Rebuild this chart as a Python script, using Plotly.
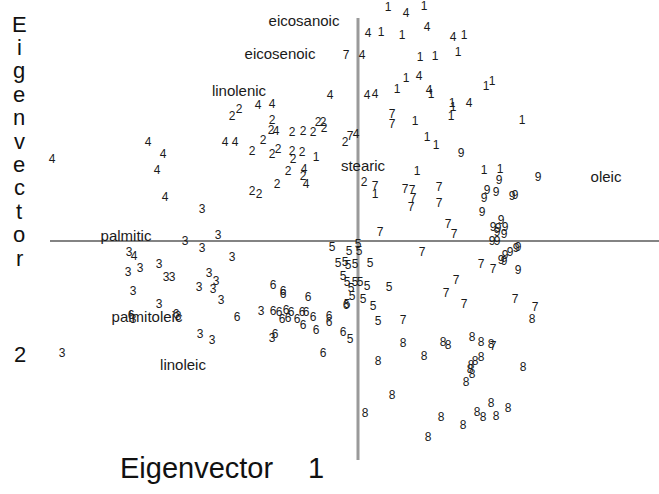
import plotly.graph_objects as go

# ---- data: eigenvector scores (x = Eigenvector 1, y = Eigenvector 2), grouped by region code ----
g1_x = [0.30, 0.66, 0.23, 0.44, 1.06, 0.62, 0.77, 1.00, 0.48, 0.39, 0.73, 1.28, 1.34, 0.94, 0.95, 0.93, 0.57, 1.64, 0.69, 0.78, -0.42, 0.59, 1.26, 1.42, 0.17]
g1_y = [2.33, 2.34, 2.08, 2.05, 2.05, 1.83, 1.84, 1.88, 1.62, 1.51, 1.46, 1.54, 1.59, 1.37, 1.33, 1.24, 1.19, 1.20, 1.03, 0.95, 0.83, 0.69, 0.70, 0.71, 0.46]

g2_x = [-1.26, -1.19, -0.86, -0.87, -0.95, -0.66, -0.55, -0.45, -0.40, -0.35, -0.34, -1.06, -0.86, -0.80, -0.66, -0.56, -0.65, -0.70, -0.55, -0.81, -1.06, -0.99, -0.13, 0.06]
g2_y = [1.24, 1.31, 1.20, 1.10, 1.00, 1.08, 1.09, 1.08, 1.18, 1.18, 1.12, 0.89, 0.86, 0.91, 0.89, 0.88, 0.81, 0.69, 0.64, 0.56, 0.49, 0.46, 0.98, 0.58]

g3_x = [-1.56, -1.73, -1.40, -1.56, -2.29, -1.26, -2.30, -2.18, -1.99, -1.92, -1.86, -1.49, -1.42, -1.59, -1.45, -1.37, -2.25, -1.99, -2.25, -1.80, -0.97, -0.86, -1.58, -1.46, -2.96]
g3_y = [0.31, -0.01, 0.05, -0.08, -0.12, -0.17, -0.32, -0.28, -0.24, -0.37, -0.37, -0.33, -0.41, -0.47, -0.49, -0.60, -0.51, -0.64, -0.79, -0.76, -0.71, -0.98, -0.94, -1.00, -1.13]

g4_x = [0.48, 0.69, 0.10, 0.95, 0.04, 0.61, -0.28, 0.09, 0.17, 0.71, 1.11, -1.00, -0.86, -0.82, -1.33, -1.23, -0.54, -0.52, -0.02, -3.06, -2.10, -1.95, -2.01, -1.93, -2.24]
g4_y = [2.27, 2.13, 2.07, 2.03, 1.85, 1.64, 1.45, 1.45, 1.46, 1.50, 1.37, 1.35, 1.36, 1.09, 0.98, 0.98, 0.71, 0.56, 1.06, 0.81, 0.98, 0.86, 0.70, 0.43, -0.16]

g5_x = [-0.26, -0.09, 0.00, 0.01, -0.20, -0.13, -0.10, -0.03, 0.12, -0.15, -0.11, -0.03, 0.02, 0.09, 0.31, -0.07, -0.06, -0.11, 0.05, 0.15, 0.20, -0.08]
g5_y = [-0.07, -0.11, -0.04, -0.11, -0.23, -0.22, -0.25, -0.24, -0.23, -0.36, -0.42, -0.42, -0.42, -0.46, -0.47, -0.48, -0.56, -0.64, -0.59, -0.66, -0.81, -0.99]

g6_x = [-2.27, -1.82, -1.21, -0.85, -0.75, -0.75, -0.50, -0.85, -0.79, -0.72, -0.67, -0.76, -0.70, -0.61, -0.56, -0.52, -0.55, -0.45, -0.29, -0.29, -0.42, -0.83, -0.35, -0.15, -0.12]
g6_y = [-0.75, -0.74, -0.77, -0.45, -0.51, -0.54, -0.57, -0.71, -0.72, -0.70, -0.72, -0.79, -0.78, -0.79, -0.72, -0.72, -0.85, -0.77, -0.76, -0.82, -0.90, -0.94, -1.13, -0.92, -0.65]

g7_x = [-0.12, -0.08, 0.34, 0.34, 0.17, 0.47, 0.54, 0.55, 0.53, 0.81, 0.81, 0.22, 0.90, 0.96, 0.64, 1.23, 1.35, 0.98, 0.88, 1.06, 1.57, 1.77, 0.45, 1.35]
g7_y = [1.85, 1.04, 1.26, 1.16, 0.54, 0.51, 0.50, 0.42, 0.33, 0.53, 0.37, 0.08, 0.16, 0.06, -0.12, -0.24, -0.29, -0.40, -0.53, -0.64, -0.59, -0.67, -0.80, -1.06]

g8_x = [1.74, 0.45, 0.20, 0.66, 0.85, 0.90, 1.14, 1.23, 1.33, 1.23, 1.17, 1.13, 1.12, 1.14, 1.08, 1.65, 0.34, 0.07, 0.83, 1.05, 0.70, 1.19, 1.25, 1.33, 1.38, 1.50]
g8_y = [-0.79, -1.03, -1.21, -1.16, -1.02, -1.05, -0.97, -1.02, -1.04, -1.17, -1.21, -1.25, -1.29, -1.34, -1.42, -1.27, -1.55, -1.73, -1.77, -1.85, -1.97, -1.72, -1.77, -1.63, -1.76, -1.68]

g9_x = [1.03, 1.41, 1.80, 1.29, 1.38, 1.26, 1.54, 1.57, 1.24, 1.43, 1.35, 1.40, 1.47, 1.46, 1.39, 1.34, 1.39, 1.60, 1.58, 1.52, 1.47, 1.46, 1.43, 1.60]
g9_y = [0.87, 0.60, 0.63, 0.50, 0.48, 0.42, 0.44, 0.45, 0.28, 0.20, 0.13, 0.12, 0.13, 0.06, 0.08, -0.01, -0.01, -0.07, -0.08, -0.12, -0.15, -0.21, -0.20, -0.30]

# fatty-acid variable labels
var_names = ["eicosanoic", "eicosenoic", "linolenic", "stearic", "oleic", "palmitic", "palmitoleic", "linoleic"]
var_x = [-0.54, -0.78, -1.19, 0.05, 2.48, -2.32, -2.11, -1.75]
var_y = [2.19, 1.86, 1.49, 0.74, 0.63, 0.04, -0.77, -1.25]

y_title_letters = list("Eigenvector")

# ---- figure ----
W, H = 659, 494
X0, X1 = -3.58, 3.01
Y0, Y1 = -2.53, 2.41

fig = go.Figure()

groups = [("1", g1_x, g1_y), ("2", g2_x, g2_y), ("3", g3_x, g3_y), ("4", g4_x, g4_y),
          ("5", g5_x, g5_y), ("6", g6_x, g6_y), ("7", g7_x, g7_y), ("8", g8_x, g8_y),
          ("9", g9_x, g9_y)]

# axis lines (drawn first, under text)
fig.add_shape(type="line", x0=-3.08, x1=X1, y0=0, y1=0, xref="x", yref="y",
              line=dict(color="#5a5a5a", width=1.6), layer="below")
fig.add_shape(type="line", x0=0, x1=0, y0=2.23, y1=-2.19, xref="x", yref="y",
              line=dict(color="#9a9a9a", width=3), layer="below")

for lab, xs, ys in groups:
    fig.add_trace(go.Scatter(
        x=xs, y=ys, mode="text", text=[lab] * len(xs),
        textposition="middle center",
        textfont=dict(size=12, color="#1a1a1a", family="Liberation Sans, Arial, sans-serif"),
        hoverinfo="skip", showlegend=False))

fig.add_trace(go.Scatter(
    x=var_x, y=var_y, mode="text", text=var_names, textposition="middle center",
    textfont=dict(size=15, color="#1a1a1a", family="Liberation Sans, Arial, sans-serif"),
    hoverinfo="skip", showlegend=False))


def pp(px, py):
    return px / W, 1 - py / H


annotations = []
ys_letters = [24 + i * 23.4 for i in range(len(y_title_letters))]
for ch, py in zip(y_title_letters, ys_letters):
    ax, ay = pp(19, py)
    annotations.append(dict(x=ax, y=ay, xref="paper", yref="paper", text=ch, showarrow=False,
                            xanchor="center", yanchor="middle",
                            font=dict(size=22, color="#111", family="Liberation Sans, Arial, sans-serif")))
ax, ay = pp(20, 354)
annotations.append(dict(x=ax, y=ay, xref="paper", yref="paper", text="2", showarrow=False,
                        xanchor="center", yanchor="middle",
                        font=dict(size=22, color="#111", family="Liberation Sans, Arial, sans-serif")))
ax, ay = pp(196, 468)
annotations.append(dict(x=ax, y=ay, xref="paper", yref="paper", text="Eigenvector", showarrow=False,
                        xanchor="center", yanchor="middle",
                        font=dict(size=29, color="#111", family="Liberation Sans, Arial, sans-serif")))
ax, ay = pp(316, 468)
annotations.append(dict(x=ax, y=ay, xref="paper", yref="paper", text="1", showarrow=False,
                        xanchor="center", yanchor="middle",
                        font=dict(size=29, color="#111", family="Liberation Sans, Arial, sans-serif")))

fig.update_layout(
    width=W, height=H, margin=dict(l=0, r=0, t=0, b=0),
    paper_bgcolor="white", plot_bgcolor="white",
    xaxis=dict(range=[X0, X1], visible=False, fixedrange=True),
    yaxis=dict(range=[Y0, Y1], visible=False, fixedrange=True),
    annotations=annotations, showlegend=False,
)

fig.write_html("out.html")
